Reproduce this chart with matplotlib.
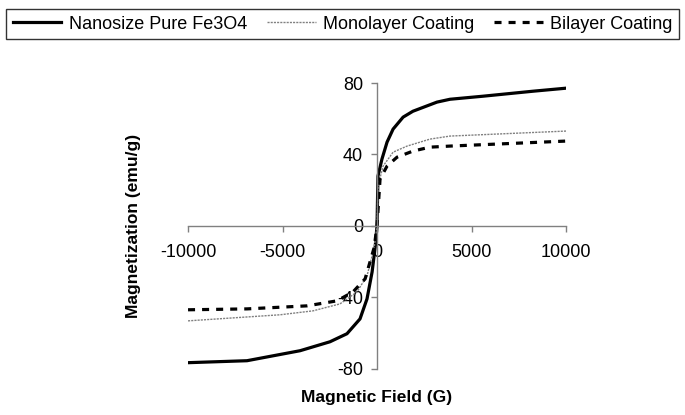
import matplotlib
matplotlib.use("Agg")
from matplotlib import pyplot as plt
import numpy as np

plt.rcParams['font.family'] = ['Liberation Sans', 'DejaVu Sans']
plt.rcParams['axes.unicode_minus'] = False

# Nanosize pure Fe3O4
pure_field = [-10000, -6880, -4070, -2490, -1590, -900, -530, -260, -100, 0,
              50, 260, 530, 850, 1380, 1900, 3170, 3860, 5600, 8250, 10000]
pure_mag = [-76.5, -75.4, -69.8, -64.8, -60.3, -52.0, -40.8, -25.7, -12.0, 0,
            27.9, 37.4, 46.9, 54.2, 60.9, 64.2, 69.3, 70.9, 72.6, 75.4, 77.1]

# monolayer coating
mono_field = [-10000, -5130, -3390, -1960, -1060, -530, -150, 0,
              50, 320, 850, 1590, 2800, 3860, 10000]
mono_mag = [-53.1, -49.7, -47.5, -43.6, -36.9, -27.9, -12.0, 0,
            22.3, 33.5, 41.3, 44.7, 48.6, 50.3, 53.1]

# bilayer coating
bi_field = [-10000, -6880, -3700, -2120, -1270, -630, -150, 0,
            160, 530, 1060, 1900, 2800, 3860, 10000]
bi_mag = [-46.9, -46.4, -44.7, -41.9, -36.9, -29.6, -12.0, 0,
          26.3, 33.5, 38.5, 41.9, 44.1, 44.7, 47.5]

fig = plt.figure(figsize=(6.85, 4.15), dpi=100)
ax = fig.add_axes([0.2745, 0.111, 0.5518, 0.689])

l1, = ax.plot(pure_field, pure_mag, color='black', lw=2.3)
l2, = ax.plot(mono_field, mono_mag, color='0.5', lw=1.0, ls=(0, (1.5, 0.8)))
l3, = ax.plot(bi_field, bi_mag, color='black', lw=2.3, ls=(0, (2.2, 2.2)))

ax.set_xlim(-10000, 10000)
ax.set_ylim(-80, 80)
ax.set_xticks([-10000, -5000, 0, 5000, 10000])
ax.set_yticks([-80, -40, 0, 40, 80])

for s in ['top', 'right']:
    ax.spines[s].set_visible(False)
ax.spines['left'].set_position(('data', 0))
ax.spines['bottom'].set_position(('data', 0))
for s in ['left', 'bottom']:
    ax.spines[s].set_color('#808080')
    ax.spines[s].set_linewidth(1.0)
ax.tick_params(axis='both', direction='out', length=4, width=1, color='#808080',
               labelsize=13)
ax.tick_params(axis='x', pad=9)
ax.tick_params(axis='y', pad=6)

ax.set_xlabel('Magnetic Field (G)', fontsize=12.5, fontweight='bold')
ax.set_ylabel('Magnetization (emu/g)', fontsize=12.5, fontweight='bold')
ax.xaxis.set_label_coords(0.5, -0.075)
ax.yaxis.set_label_coords(-0.125, 0.5)

leg = fig.legend([l1, l2, l3],
                 ['Nanosize Pure Fe3O4', 'Monolayer Coating', 'Bilayer Coating'],
                 loc='center', bbox_to_anchor=(0.5, 0.942), ncol=3,
                 fontsize=13, frameon=True, fancybox=False, handlelength=2.7,
                 handletextpad=0.4, columnspacing=1.1, borderpad=0.35,
                 borderaxespad=0)
leg.get_frame().set_edgecolor('black')
leg.get_frame().set_linewidth(1.0)

fig.savefig('out.png', dpi=100)
